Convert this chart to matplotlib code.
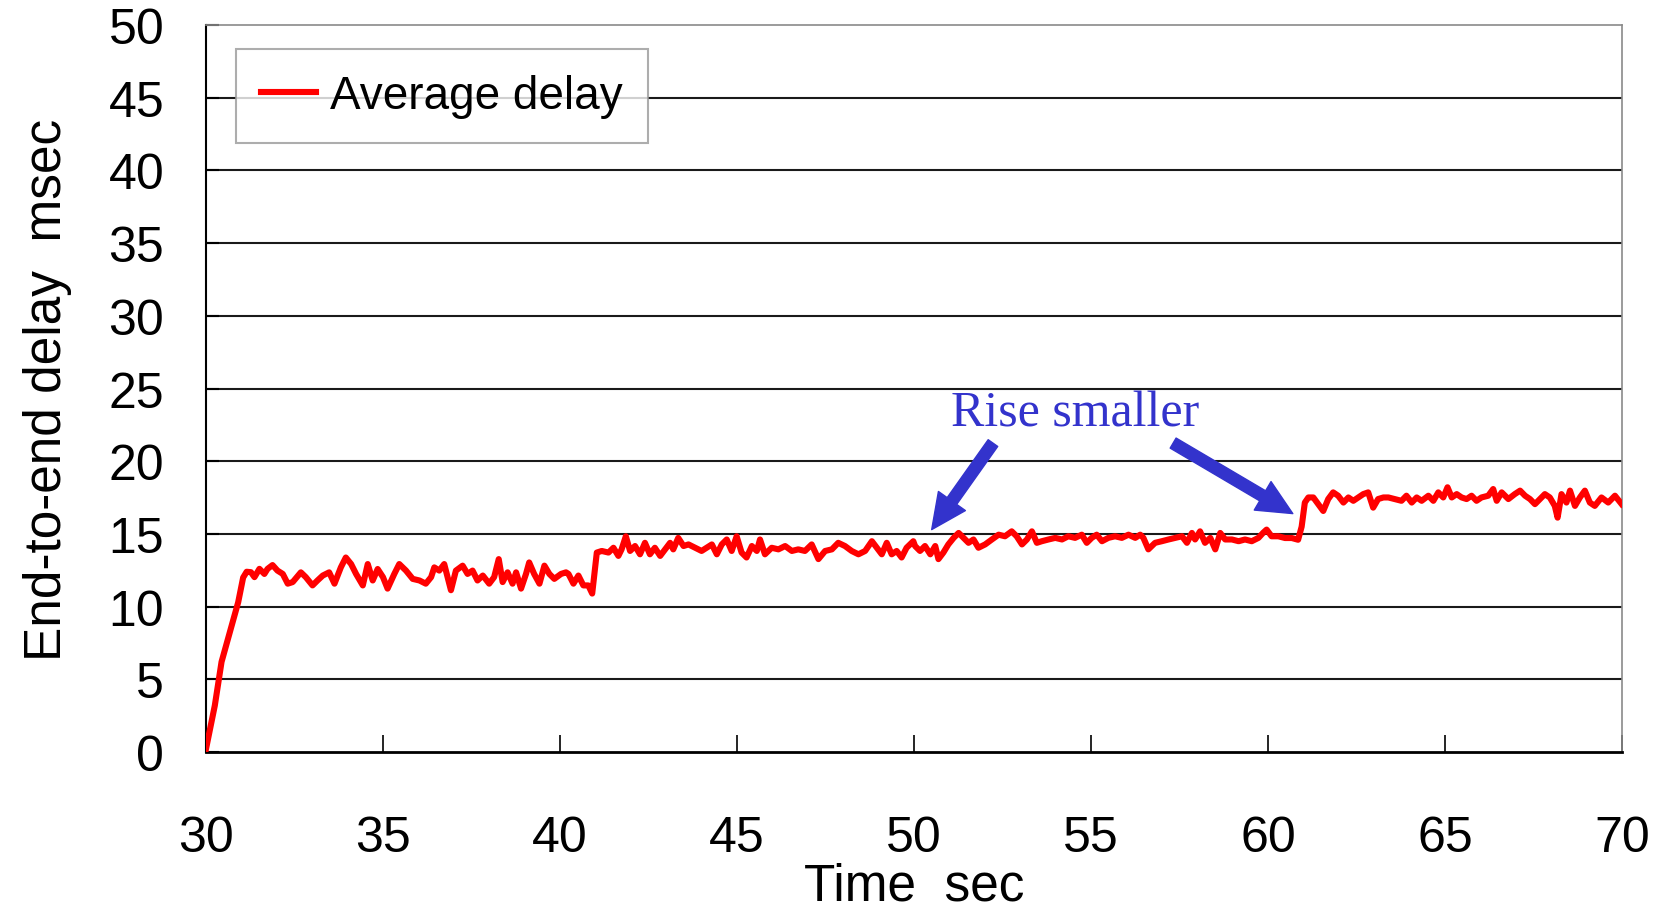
import matplotlib
matplotlib.use("Agg")
import matplotlib.pyplot as plt

# =========================
# Data
# =========================
time_s = [
    30.00, 30.25, 30.44, 30.68, 30.91, 31.05, 31.15, 31.27, 31.37, 31.51,
    31.65, 31.74, 31.88, 32.02, 32.17, 32.31, 32.45, 32.68, 32.82, 33.01,
    33.15, 33.30, 33.48, 33.63, 33.81, 33.95, 34.10, 34.24, 34.43, 34.57,
    34.71, 34.85, 35.00, 35.13, 35.32, 35.46, 35.65, 35.84, 36.03, 36.21,
    36.36, 36.45, 36.59, 36.73, 36.92, 37.06, 37.25, 37.39, 37.53, 37.67,
    37.82, 38.00, 38.14, 38.27, 38.38, 38.52, 38.66, 38.76, 38.90, 39.04,
    39.13, 39.27, 39.42, 39.56, 39.70, 39.84, 40.03, 40.17, 40.24, 40.38,
    40.52, 40.66, 40.80, 40.91, 41.04, 41.18, 41.37, 41.51, 41.65, 41.74,
    41.86, 41.98, 42.12, 42.26, 42.40, 42.54, 42.68, 42.83, 42.97, 43.11,
    43.20, 43.34, 43.49, 43.63, 43.82, 44.00, 44.14, 44.29, 44.43, 44.57,
    44.71, 44.85, 44.99, 45.13, 45.27, 45.42, 45.56, 45.65, 45.79, 45.98,
    46.17, 46.36, 46.55, 46.73, 46.92, 47.11, 47.30, 47.49, 47.68, 47.86,
    48.05, 48.24, 48.43, 48.62, 48.81, 48.95, 49.09, 49.23, 49.37, 49.51,
    49.65, 49.79, 49.98, 50.03, 50.17, 50.31, 50.46, 50.60, 50.69, 50.83,
    50.97, 51.12, 51.26, 51.40, 51.54, 51.68, 51.82, 52.01, 52.20, 52.39,
    52.57, 52.76, 52.90, 53.05, 53.19, 53.33, 53.47, 53.61, 53.80, 53.99,
    54.18, 54.36, 54.55, 54.74, 54.88, 55.02, 55.16, 55.31, 55.49, 55.68,
    55.87, 56.06, 56.25, 56.39, 56.48, 56.62, 56.81, 57.00, 57.19, 57.38,
    57.57, 57.71, 57.85, 57.94, 58.08, 58.22, 58.37, 58.51, 58.65, 58.79,
    58.98, 59.17, 59.35, 59.54, 59.73, 59.87, 59.96, 60.10, 60.29, 60.48,
    60.67, 60.85, 60.95, 61.04, 61.14, 61.28, 61.42, 61.56, 61.70, 61.84,
    61.98, 62.13, 62.27, 62.41, 62.55, 62.69, 62.83, 62.97, 63.11, 63.26,
    63.40, 63.58, 63.77, 63.91, 64.06, 64.20, 64.34, 64.53, 64.67, 64.81,
    64.95, 65.07, 65.19, 65.33, 65.47, 65.61, 65.75, 65.89, 66.03, 66.22,
    66.36, 66.46, 66.60, 66.79, 66.97, 67.12, 67.26, 67.40, 67.54, 67.68,
    67.82, 67.96, 68.10, 68.18, 68.29, 68.43, 68.53, 68.67, 68.81, 68.95,
    69.09, 69.23, 69.42, 69.61, 69.80, 69.99,
]
delay_ms = [
    0.20, 3.20, 6.20, 8.30, 10.30, 12.00, 12.40, 12.37, 12.03, 12.60,
    12.25, 12.60, 12.86, 12.48, 12.25, 11.58, 11.69, 12.36, 12.03, 11.46,
    11.80, 12.14, 12.36, 11.58, 12.70, 13.38, 12.93, 12.25, 11.46, 12.93,
    11.80, 12.59, 12.03, 11.24, 12.25, 12.93, 12.48, 11.91, 11.80, 11.58,
    12.03, 12.70, 12.48, 12.93, 11.13, 12.48, 12.82, 12.25, 12.48, 11.80,
    12.14, 11.58, 12.03, 13.27, 11.69, 12.36, 11.58, 12.36, 11.24, 12.25,
    13.04, 12.25, 11.58, 12.82, 12.25, 11.91, 12.25, 12.36, 12.25, 11.58,
    12.14, 11.46, 11.46, 10.90, 13.72, 13.83, 13.72, 14.05, 13.49, 13.94,
    14.84, 13.83, 14.17, 13.60, 14.39, 13.60, 14.05, 13.49, 13.94, 14.39,
    13.94, 14.73, 14.17, 14.28, 14.05, 13.83, 14.05, 14.28, 13.60, 14.28,
    14.62, 13.83, 14.84, 13.72, 13.38, 14.17, 13.83, 14.62, 13.60, 14.05,
    13.94, 14.17, 13.83, 13.94, 13.83, 14.28, 13.27, 13.83, 13.94, 14.39,
    14.17, 13.83, 13.60, 13.83, 14.50, 14.05, 13.60, 14.39, 13.60, 13.83,
    13.38, 14.05, 14.50, 14.17, 13.83, 14.17, 13.60, 14.17, 13.27, 13.72,
    14.28, 14.73, 15.07, 14.73, 14.39, 14.62, 14.05, 14.28, 14.62, 14.95,
    14.84, 15.18, 14.84, 14.28, 14.62, 15.18, 14.39, 14.50, 14.62, 14.73,
    14.62, 14.84, 14.73, 14.95, 14.39, 14.73, 14.95, 14.50, 14.73, 14.84,
    14.73, 14.95, 14.73, 14.95, 14.73, 13.94, 14.39, 14.50, 14.62, 14.73,
    14.84, 14.39, 15.07, 14.62, 15.18, 14.39, 14.73, 13.94, 15.07, 14.62,
    14.62, 14.50, 14.62, 14.50, 14.73, 15.10, 15.30, 14.84, 14.84, 14.72,
    14.72, 14.60, 15.50, 17.16, 17.51, 17.51, 17.05, 16.58, 17.40, 17.86,
    17.63, 17.16, 17.51, 17.28, 17.51, 17.74, 17.86, 16.81, 17.40, 17.51,
    17.51, 17.40, 17.28, 17.63, 17.16, 17.51, 17.28, 17.63, 17.28, 17.86,
    17.51, 18.21, 17.51, 17.74, 17.51, 17.40, 17.63, 17.28, 17.51, 17.63,
    18.09, 17.28, 17.86, 17.40, 17.74, 17.98, 17.63, 17.40, 17.05, 17.40,
    17.74, 17.51, 16.93, 16.12, 17.74, 17.16, 17.98, 16.93, 17.51, 17.98,
    17.16, 16.93, 17.51, 17.16, 17.63, 17.05,
]

x_ticks = [30, 35, 40, 45, 50, 55, 60, 65, 70]
y_ticks = [0, 5, 10, 15, 20, 25, 30, 35, 40, 45, 50]

# =========================
# Plot
# =========================
plt.rcParams['font.family'] = ['Liberation Sans', 'DejaVu Sans']

fig = plt.figure(figsize=(16.57, 9.12), dpi=100)
ax = fig.add_axes([0.1243, 0.1743, 0.8546, 0.7971])

ax.plot(time_s, delay_ms, color='#ff0000', linewidth=4.4,
        solid_joinstyle='round', label='Average delay', zorder=3)

ax.set_xlim(30, 70)
ax.set_ylim(0, 50)
ax.set_xticks(x_ticks)
ax.set_yticks(y_ticks)

# horizontal grid
for yv in y_ticks[1:-1]:
    ax.axhline(yv, color='#1a1a1a', linewidth=1.5, zorder=1)

ax.tick_params(axis='x', direction='in', length=12, width=1.2,
               pad=45, labelsize=36, colors='black')
ax.tick_params(axis='y', direction='in', length=9, width=1.5,
               pad=30, labelsize=36)

ax.spines['left'].set_linewidth(1.5)
ax.spines['bottom'].set_linewidth(2.0)
ax.spines['top'].set_color('#8a8a8a')
ax.spines['right'].set_color('#8a8a8a')
ax.spines['top'].set_linewidth(1.2)
ax.spines['right'].set_linewidth(1.2)

ax.set_xlabel("Time  sec", fontsize=37, labelpad=1)
ax.set_ylabel("End-to-end delay  msec", fontsize=37, labelpad=26)

leg = ax.legend(loc='upper left', bbox_to_anchor=(0.021, 0.967),
                fontsize=33, frameon=True, fancybox=False,
                handlelength=1.2, handletextpad=0.3, borderpad=0.55,
                borderaxespad=0)
leg.get_frame().set_edgecolor('#999999')
leg.get_frame().set_linewidth(1.5)

# =========================
# Annotation
# =========================
blue = '#3333cc'
ax.text(54.55, 23.3, "Rise smaller", color=blue, fontsize=36,
        family='Liberation Serif', ha='center', va='center')
arrow_style = "simple,head_length=0.9,head_width=0.85,tail_width=0.3"
ax.annotate("", xy=(50.5, 15.3), xytext=(52.23, 21.25),
            arrowprops=dict(arrowstyle=arrow_style, color=blue,
                            mutation_scale=28, shrinkA=0, shrinkB=0))
ax.annotate("", xy=(60.7, 16.4), xytext=(57.32, 21.25),
            arrowprops=dict(arrowstyle=arrow_style, color=blue,
                            mutation_scale=28, shrinkA=0, shrinkB=0))

fig.savefig("out.png", dpi=100)
